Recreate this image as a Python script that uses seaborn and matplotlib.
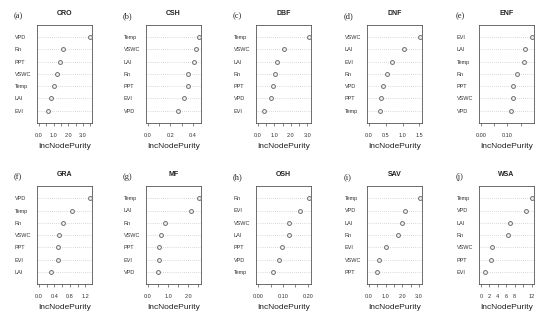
import matplotlib
matplotlib.use('Agg')
import matplotlib.pyplot as plt
import seaborn as sns
import pandas as pd

sns.set_theme(style='white')
plt.rcParams['font.family'] = ['Liberation Sans', 'DejaVu Sans']

titles = ['CRO', 'CSH', 'DBF', 'DNF', 'ENF', 'GRA', 'MF', 'OSH', 'SAV', 'WSA']
letters = ['(a)', '(b)', '(c)', '(d)', '(e)', '(f)', '(g)', '(h)', '(i)', '(j)']

cro_vars = ['VPD', 'Rn', 'PPT', 'VSWC', 'Temp', 'LAI', 'EVI']
cro_vals = [3.48, 1.66, 1.45, 1.23, 1.02, 0.82, 0.64]
csh_vars = ['Temp', 'VSWC', 'LAI', 'Rn', 'PPT', 'EVI', 'VPD']
csh_vals = [0.455, 0.43, 0.41, 0.36, 0.355, 0.32, 0.27]
dbf_vars = ['Temp', 'VSWC', 'LAI', 'Rn', 'PPT', 'VPD', 'EVI']
dbf_vals = [3.1, 1.6, 1.16, 1.06, 0.9, 0.76, 0.36]
dnf_vars = ['VSWC', 'LAI', 'EVI', 'Rn', 'VPD', 'PPT', 'Temp']
dnf_vals = [1.52, 1.05, 0.70, 0.55, 0.43, 0.35, 0.33]
enf_vars = ['EVI', 'LAI', 'Temp', 'Rn', 'PPT', 'VSWC', 'VPD']
enf_vals = [0.1925, 0.166, 0.164, 0.1375, 0.1225, 0.12, 0.1125]
gra_vars = ['VPD', 'Temp', 'Rn', 'VSWC', 'PPT', 'EVI', 'LAI']
gra_vals = [1.32, 0.85, 0.63, 0.52, 0.50, 0.50, 0.32]
mf_vars = ['Temp', 'LAI', 'Rn', 'VSWC', 'PPT', 'EVI', 'VPD']
mf_vals = [2.54, 2.13, 0.87, 0.64, 0.57, 0.57, 0.48]
osh_vars = ['Rn', 'EVI', 'VSWC', 'LAI', 'PPT', 'VPD', 'Temp']
osh_vals = [0.204, 0.17, 0.125, 0.124, 0.096, 0.084, 0.061]
sav_vars = ['Temp', 'VPD', 'LAI', 'Rn', 'EVI', 'VSWC', 'PPT']
sav_vals = [3.07, 2.14, 2.0, 1.72, 1.01, 0.59, 0.46]
wsa_vars = ['Temp', 'VPD', 'LAI', 'Rn', 'VSWC', 'PPT', 'EVI']
wsa_vals = [12.1, 10.7, 7.0, 6.4, 2.7, 2.4, 1.0]

all_vars = [cro_vars, csh_vars, dbf_vars, dnf_vars, enf_vars,
            gra_vars, mf_vars, osh_vars, sav_vars, wsa_vars]
all_vals = [cro_vals, csh_vals, dbf_vals, dnf_vals, enf_vals,
            gra_vals, mf_vals, osh_vals, sav_vals, wsa_vals]

# tick positions and the ticks that carry a label
tick_vals = [
    [0, 0.5, 1, 1.5, 2, 2.5, 3, 3.5],
    [0, 0.1, 0.2, 0.3, 0.4],
    [0, 0.5, 1, 1.5, 2, 2.5, 3],
    [0, 0.5, 1, 1.5],
    [0, 0.05, 0.10, 0.15],
    [0, 0.2, 0.4, 0.6, 0.8, 1.0, 1.2],
    [0, 0.5, 1, 1.5, 2, 2.5],
    [0, 0.05, 0.10, 0.15, 0.20],
    [0, 0.5, 1, 1.5, 2, 2.5, 3],
    [0, 2, 4, 6, 8, 10, 12],
]
tick_labels = [
    ['0.0', '', '1.0', '', '2.0', '', '3.0', ''],
    ['0.0', '', '0.2', '', '0.4'],
    ['0.0', '', '1.0', '', '2.0', '', '3.0'],
    ['0.0', '0.5', '1.0', '1.5'],
    ['0.00', '', '0.10', ''],
    ['0.0', '', '0.4', '', '0.8', '', '1.2'],
    ['0.0', '', '1.0', '', '2.0', ''],
    ['0.00', '', '0.10', '', '0.20'],
    ['0.0', '', '1.0', '', '2.0', '', '3.0'],
    ['0', '2', '4', '6', '8', '', '12'],
]

W, H = 550, 327
fig = plt.figure(figsize=(W / 100, H / 100), dpi=100)
lefts = [37, 146, 256, 367, 479]
tops = [25, 186]
aw, ah = 55, 98

for i in range(10):
    r, c = divmod(i, 5)
    ax = fig.add_axes([lefts[c] / W, 1 - (tops[r] + ah) / H, aw / W, ah / H])
    df = pd.DataFrame({'var': all_vars[i], 'val': all_vals[i]})
    sns.stripplot(data=df, x='val', y='var', ax=ax, jitter=False, color='#777777',
                  edgecolor='#707070', linewidth=0.7, size=2.8, zorder=3)
    for coll in ax.collections:
        coll.set_facecolor('#f2f2f2')
        coll.set_edgecolor('#707070')
    n = len(all_vars[i])
    ax.set_ylim(n, -1)
    mx = max(all_vals[i])
    ax.set_xlim(-0.04 * mx, mx * 1.04)
    ax.set_xticks(tick_vals[i])
    ax.set_xticklabels(tick_labels[i])
    ax.grid(axis='y', linestyle=(0, (1, 2)), color='#b5b5b5', linewidth=0.5)
    ax.grid(axis='x', visible=False)
    ax.set_axisbelow(True)
    for sp in ax.spines.values():
        sp.set_color('#555555')
        sp.set_linewidth(0.6)
    ax.tick_params(axis='x', bottom=True, length=2.4, width=0.5, color='#555555',
                   pad=4.5, labelsize=4, labelcolor='#333333')
    ax.tick_params(axis='y', left=False, length=0, pad=16, labelsize=4,
                   labelcolor='#333333')
    for lab in ax.get_yticklabels():
        lab.set_horizontalalignment('left')
    ax.set_ylabel('')
    ax.set_xlabel('IncNodePurity', fontsize=6, labelpad=4, color='#222222')
    ax.set_title(titles[i], fontsize=5, fontweight='bold', pad=7.5, color='#222222')
    ax.annotate(letters[i], xy=(0, 1), xycoords='axes fraction', xytext=(-17, 6.5),
                textcoords='offset points', ha='left', va='center', fontsize=6,
                family=['Liberation Serif', 'DejaVu Serif'], color='#222222')

fig.savefig('out.png', dpi=100, facecolor='white')
